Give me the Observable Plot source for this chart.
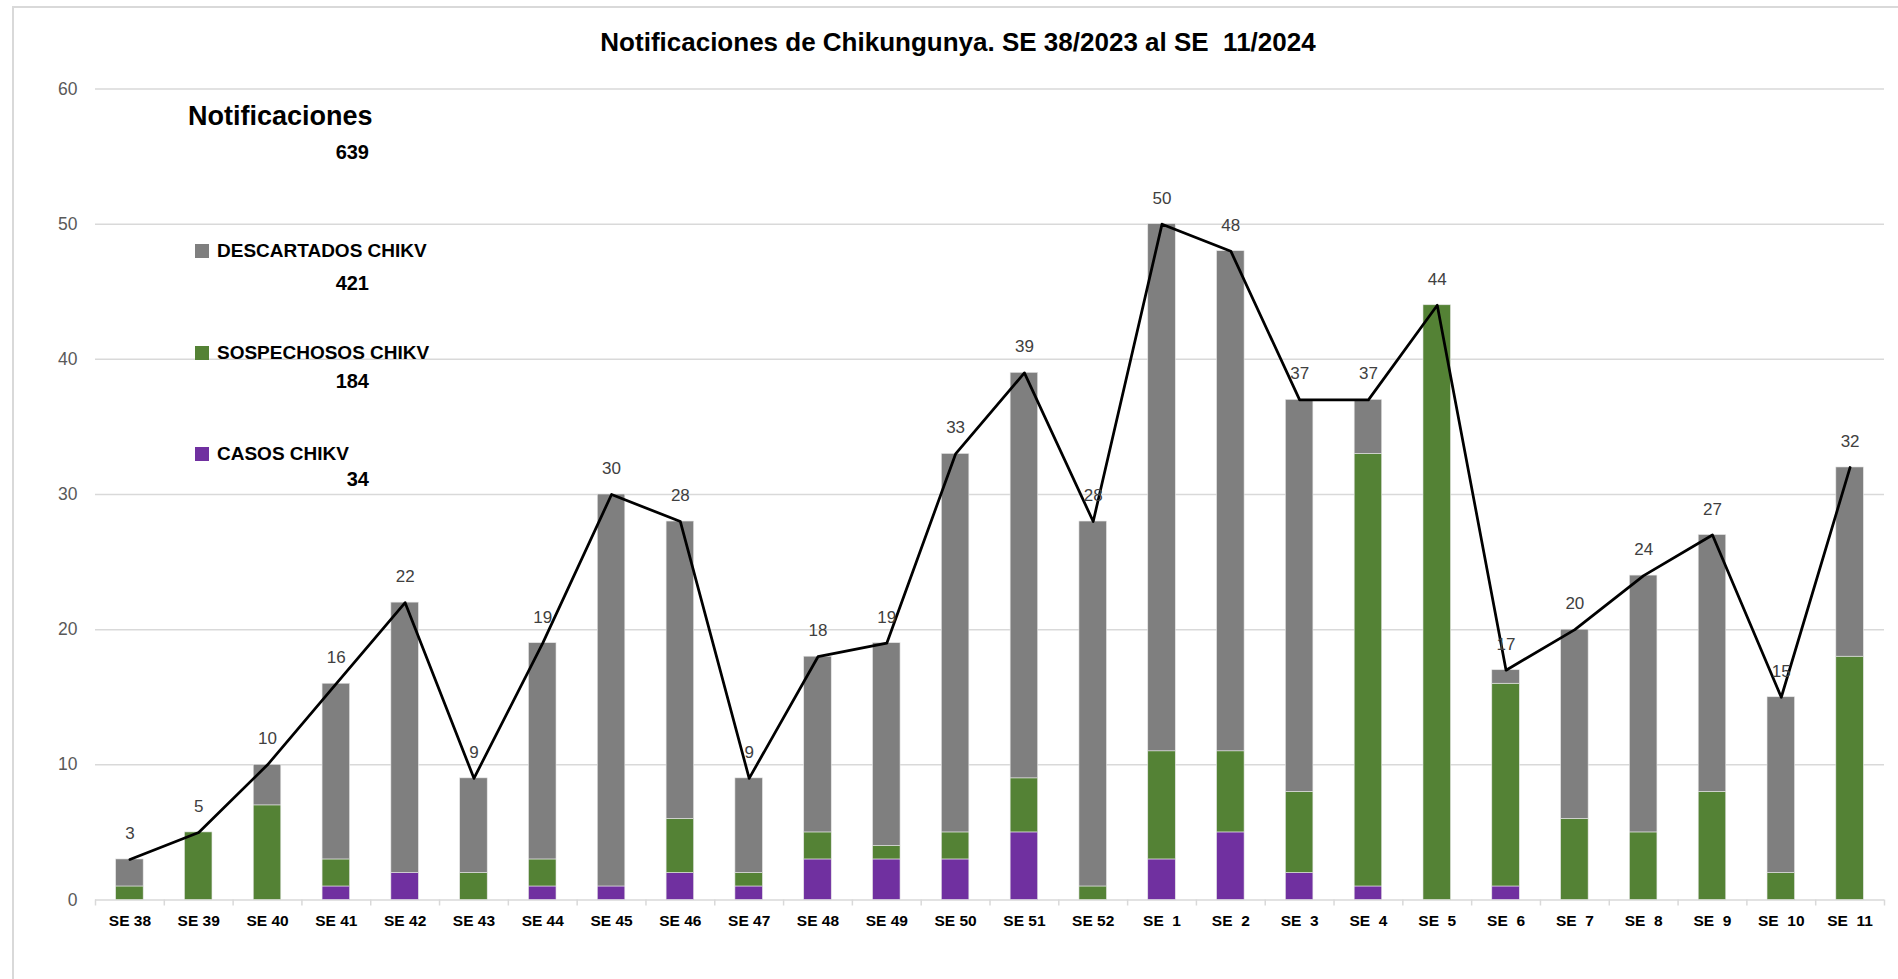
<!DOCTYPE html>
<html>
<head>
<meta charset="utf-8">
<script src="https://cdn.jsdelivr.net/npm/d3@7"></script>
<script src="https://cdn.jsdelivr.net/npm/@observablehq/plot@0.6"></script>
<style>
  html, body { margin: 0; padding: 0; background: #fff; overflow: hidden; }
  body { font-family: "Liberation Sans", Arial, sans-serif; }
  #wrap { position: relative; width: 1898px; height: 979px; }
  #frame { position: absolute; left: 12px; top: 6px; right: -10px; bottom: -10px; border-left: 2px solid #d9d9d9; border-top: 2px solid #d9d9d9; pointer-events: none; }
  #title { position: relative; height: 70px; }
  #title span { position: absolute; left: 958px; top: 42px; transform: translate(-50%, -50%); font-weight: bold; font-size: 26px; color: #000; white-space: pre; }
  .lg { position: absolute; font-weight: bold; color: #000; white-space: nowrap; transform: translateY(-50%); }
  .sw { display: inline-block; width: 14px; height: 14px; margin-right: 8px; vertical-align: -1px; }
  svg text { white-space: pre; }
</style>
</head>
<body>
<div id="wrap">
  <div id="frame"></div>
  <div id="title"><span>Notificaciones de Chikungunya. SE 38/2023 al SE  11/2024</span></div>
  <div id="chart"></div>
  <div id="legend"></div>
</div>
<script>
const weeks = ["SE 38","SE 39","SE 40","SE 41","SE 42","SE 43","SE 44","SE 45","SE 46","SE 47","SE 48","SE 49","SE 50","SE 51","SE 52","SE  1","SE  2","SE  3","SE  4","SE  5","SE  6","SE  7","SE  8","SE  9","SE  10","SE  11"];
const casos        = [0,0,0,1,2,0,1,1,2,1,3,3,3,5,0,3,5,2,1,0,1,0,0,0,0,0];
const sospechosos  = [1,5,7,2,0,2,2,0,4,1,2,1,2,4,1,8,6,6,32,44,15,6,5,8,2,18];
const descartados  = [2,0,3,13,20,7,16,29,22,7,13,15,28,30,27,39,37,29,4,0,1,14,19,19,13,14];
const notificaciones = [3,5,10,16,22,9,19,30,28,9,18,19,33,39,28,50,48,37,37,44,17,20,24,27,15,32];
const seriesNames  = ["CASOS CHIKV","SOSPECHOSOS CHIKV","DESCARTADOS CHIKV"];
const seriesColors = ["#7030a0","#548235","#7f7f7f"];
const yTicks = [0,10,20,30,40,50,60];

const seriesValues = [casos, sospechosos, descartados];
const rows = [];
weeks.forEach((w, i) => {
  seriesNames.forEach((s, k) => rows.push({week: w, serie: s, value: seriesValues[k][i]}));
});
const totals = weeks.map((w, i) => ({week: w, total: notificaciones[i]}));

const W = 1898, H = 900, mL = 95, mR = 14, mT = 18.5, mB = 70.5;
const step = (W - mL - mR) / weeks.length;

const chart = Plot.plot({
  width: W, height: H,
  marginLeft: mL, marginRight: mR, marginTop: mT, marginBottom: mB,
  x: {domain: weeks, paddingInner: 0.6, paddingOuter: 0.3, round: false, label: null},
  y: {domain: [0, 60], label: null},
  color: {domain: seriesNames, range: seriesColors},
  style: {fontFamily: "'Liberation Sans', Arial, sans-serif", background: "transparent"},
  marks: [
    Plot.ruleY(yTicks, {stroke: "#d9d9d9", strokeWidth: 1.5}),
    Plot.ruleX(weeks, {x: d => d, dx: -step / 2, y1: 0, y2: 0, insetBottom: -6, stroke: "#d9d9d9", strokeWidth: 1.5}),
    Plot.ruleX([weeks[weeks.length - 1]], {x: d => d, dx: step / 2, y1: 0, y2: 0, insetBottom: -6, stroke: "#d9d9d9", strokeWidth: 1.5}),
    Plot.barY(rows, {x: "week", y: "value", fill: "serie", stroke: "#e6e6e6", strokeWidth: 0.6}),
    Plot.line(totals, {x: "week", y: "total", stroke: "#000", strokeWidth: 2.75}),
    Plot.text(totals, {x: "week", y: "total", text: d => String(d.total), dy: -26, fill: "#404040", fontSize: 17}),
    Plot.axisY(yTicks, {tickSize: 0, tickPadding: 18, fontSize: 17.5, fill: "#595959", label: null}),
    Plot.axisX({tickSize: 0, tickPadding: 15, fontSize: 15.5, fontWeight: "bold", fill: "#000", label: null})
  ]
});
document.getElementById("chart").appendChild(chart);

// legend overlay (HTML), totals computed from the data
const legend = document.getElementById("legend");
function add(html, style) {
  const d = document.createElement("div");
  d.className = "lg";
  d.innerHTML = html;
  Object.assign(d.style, style);
  legend.appendChild(d);
}
const sumAll = d3.sum(notificaciones);
const legendItems = [
  {name: seriesNames[2], color: seriesColors[2], total: d3.sum(descartados), y: 251, ny: 283},
  {name: seriesNames[1], color: seriesColors[1], total: d3.sum(sospechosos), y: 353, ny: 381},
  {name: seriesNames[0], color: seriesColors[0], total: d3.sum(casos), y: 454, ny: 479}
];
add("Notificaciones", {left: "188px", top: "116px", fontSize: "27px"});
add(String(sumAll), {right: (1898 - 369) + "px", top: "152px", fontSize: "20px"});
legendItems.forEach(it => {
  add(`<span class="sw" style="background:${it.color}"></span>${it.name}`, {left: "195px", top: it.y + "px", fontSize: "19px"});
  add(String(it.total), {right: (1898 - 369) + "px", top: it.ny + "px", fontSize: "20px"});
});
</script>
</body>
</html>
